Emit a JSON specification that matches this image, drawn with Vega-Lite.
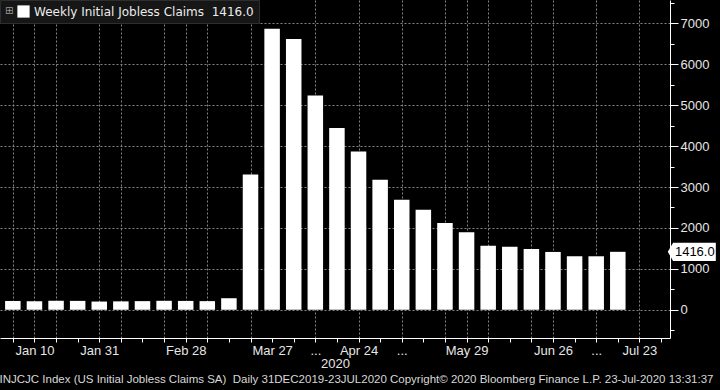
{
  "$schema": "https://vega.github.io/schema/vega-lite/v6.json",
  "width": 670,
  "height": 338,
  "autosize": {"type": "none"},
  "padding": {"left": 0, "top": 0, "right": 50, "bottom": 52},
  "background": "#000000",
  "title": {
    "text": "INJCJC Index (US Initial Jobless Claims SA)\u00a0\u00a0Daily 31DEC2019-23JUL2020 Copyright© 2020 Bloomberg Finance L.P. 23-Jul-2020 13:31:37",
    "orient": "bottom",
    "anchor": "start",
    "color": "#d8d8d8",
    "font": "Liberation Sans",
    "fontSize": 11.5,
    "fontWeight": "normal",
    "offset": 4
  },
  "config": {
    "view": {"stroke": null},
    "legend": {"orient": "none"}
  },
  "data": {
    "values": [
      {"date": "2020-01-03", "value": 214},
      {"date": "2020-01-10", "value": 207},
      {"date": "2020-01-17", "value": 220},
      {"date": "2020-01-24", "value": 217},
      {"date": "2020-01-31", "value": 201},
      {"date": "2020-02-07", "value": 205},
      {"date": "2020-02-14", "value": 211},
      {"date": "2020-02-21", "value": 219},
      {"date": "2020-02-28", "value": 216},
      {"date": "2020-03-06", "value": 211},
      {"date": "2020-03-13", "value": 282},
      {"date": "2020-03-20", "value": 3307},
      {"date": "2020-03-27", "value": 6867},
      {"date": "2020-04-03", "value": 6615},
      {"date": "2020-04-10", "value": 5237},
      {"date": "2020-04-17", "value": 4442},
      {"date": "2020-04-24", "value": 3867},
      {"date": "2020-05-01", "value": 3176},
      {"date": "2020-05-08", "value": 2687},
      {"date": "2020-05-15", "value": 2446},
      {"date": "2020-05-22", "value": 2123},
      {"date": "2020-05-29", "value": 1897},
      {"date": "2020-06-05", "value": 1566},
      {"date": "2020-06-12", "value": 1540},
      {"date": "2020-06-19", "value": 1482},
      {"date": "2020-06-26", "value": 1413},
      {"date": "2020-07-03", "value": 1310},
      {"date": "2020-07-10", "value": 1307},
      {"date": "2020-07-17", "value": 1416}
    ]
  },
  "encoding": {
    "x": {
      "field": "date",
      "type": "temporal",
      "scale": {
        "type": "utc",
        "domain": [
          {"year": 2019, "month": 12, "date": 31, "hours": 11, "utc": true},
          {"year": 2020, "month": 8, "date": 1, "hours": 7, "utc": true}
        ]
      },
      "axis": {
        "values": [
          {"year": 2020, "month": 1, "date": 3, "utc": true},
          {"year": 2020, "month": 1, "date": 10, "utc": true},
          {"year": 2020, "month": 1, "date": 17, "utc": true},
          {"year": 2020, "month": 1, "date": 24, "utc": true},
          {"year": 2020, "month": 1, "date": 31, "utc": true},
          {"year": 2020, "month": 2, "date": 7, "utc": true},
          {"year": 2020, "month": 2, "date": 14, "utc": true},
          {"year": 2020, "month": 2, "date": 21, "utc": true},
          {"year": 2020, "month": 2, "date": 28, "utc": true},
          {"year": 2020, "month": 3, "date": 6, "utc": true},
          {"year": 2020, "month": 3, "date": 13, "utc": true},
          {"year": 2020, "month": 3, "date": 20, "utc": true},
          {"year": 2020, "month": 3, "date": 27, "utc": true},
          {"year": 2020, "month": 4, "date": 3, "utc": true},
          {"year": 2020, "month": 4, "date": 10, "utc": true},
          {"year": 2020, "month": 4, "date": 17, "utc": true},
          {"year": 2020, "month": 4, "date": 24, "utc": true},
          {"year": 2020, "month": 5, "date": 1, "utc": true},
          {"year": 2020, "month": 5, "date": 8, "utc": true},
          {"year": 2020, "month": 5, "date": 15, "utc": true},
          {"year": 2020, "month": 5, "date": 22, "utc": true},
          {"year": 2020, "month": 5, "date": 29, "utc": true},
          {"year": 2020, "month": 6, "date": 5, "utc": true},
          {"year": 2020, "month": 6, "date": 12, "utc": true},
          {"year": 2020, "month": 6, "date": 19, "utc": true},
          {"year": 2020, "month": 6, "date": 26, "utc": true},
          {"year": 2020, "month": 7, "date": 3, "utc": true},
          {"year": 2020, "month": 7, "date": 10, "utc": true},
          {"year": 2020, "month": 7, "date": 17, "utc": true},
          {"year": 2020, "month": 7, "date": 24, "utc": true},
          {"year": 2020, "month": 7, "date": 31, "utc": true}
        ],
        "labelExpr": "indexof(['01-10','01-31','02-28','03-27','04-24','05-29','06-26'], utcFormat(datum.value, '%m-%d')) >= 0 ? utcFormat(datum.value, '%b %d') : (indexof(['04-10','05-08','07-10'], utcFormat(datum.value, '%m-%d')) >= 0 ? '...' : (utcFormat(datum.value, '%m-%d') == '07-24' ? 'Jul 23' : ''))",
        "labelOverlap": false,
        "labelFlush": false,
        "labelColor": "#e6e6e6",
        "labelFont": "Liberation Sans",
        "labelFontSize": 13,
        "labelPadding": 2,
        "domainColor": "#ffffff",
        "tickColor": "#ffffff",
        "tickSize": 4,
        "title": "2020",
        "titleColor": "#e6e6e6",
        "titleFont": "Liberation Sans",
        "titleFontSize": 13,
        "titleFontWeight": "normal",
        "titlePadding": 0,
        "grid": true,
        "gridColor": "#858585",
        "gridDash": [2, 2],
        "gridOpacity": {
          "condition": {
            "test": "indexof(['01-03','01-10','01-17','01-31','02-07','02-21','02-28','03-06','03-20','04-10','04-24','05-08','05-22','05-29','06-05','06-19','06-26','07-10','07-24'], utcFormat(datum.value, '%m-%d')) >= 0",
            "value": 1
          },
          "value": 0
        }
      }
    },
    "y": {
      "field": "value",
      "type": "quantitative",
      "scale": {"domain": [-690, 7570], "nice": false, "zero": false},
      "axis": {
        "orient": "right",
        "values": [-500, 0, 500, 1000, 1500, 2000, 2500, 3000, 3500, 4000, 4500, 5000, 5500, 6000, 6500, 7000, 7500],
        "labelExpr": "datum.value >= 0 && datum.value % 1000 == 0 ? '' + datum.value : ''",
        "labelColor": "#e6e6e6",
        "labelFont": "Liberation Sans",
        "labelFontSize": 13,
        "labelPadding": 2,
        "domainColor": "#ffffff",
        "tickColor": "#ffffff",
        "tickSize": {"condition": {"test": "datum.value % 1000 == 0", "value": 8}, "value": 4},
        "title": null,
        "grid": true,
        "gridColor": "#858585",
        "gridDash": [2, 2],
        "gridOpacity": {
          "condition": {"test": "datum.value >= 0 && datum.value % 1000 == 0", "value": 1},
          "value": 0
        }
      }
    }
  },
  "layer": [
    {
      "mark": {"type": "bar", "width": 15.5, "clip": false},
      "encoding": {
        "color": {
          "datum": "Weekly Initial Jobless Claims\u00a0\u00a01416.0",
          "scale": {"range": ["#ffffff"]},
          "legend": {
            "legendX": 0,
            "legendY": 0,
            "title": "⊞",
            "titleOrient": "left",
            "titleColor": "#9a9a9a",
            "titleFont": "DejaVu Sans",
            "titleFontSize": 10,
            "titleFontWeight": "normal",
            "titlePadding": 3,
            "titleLineHeight": 20,
            "padding": 5,
            "fillColor": "#161616",
            "strokeColor": "#2e2e2e",
            "symbolType": "square",
            "symbolSize": 150,
            "symbolStrokeWidth": 0,
            "labelColor": "#ececec",
            "labelFont": "DejaVu Sans",
            "labelFontSize": 12,
            "labelLimit": 400
          }
        }
      }
    },
    {
      "transform": [{"filter": "datum.value == 1416"}],
      "mark": {
        "type": "point",
        "shape": "M -1 0 L -0.78 -0.38 L 1 -0.38 L 1 0.38 L -0.78 0.38 Z",
        "size": 2304,
        "filled": true,
        "fill": "#ffffff",
        "opacity": 1,
        "xOffset": 74,
        "clip": false
      }
    },
    {
      "transform": [{"filter": "datum.value == 1416"}],
      "mark": {
        "type": "text",
        "color": "#000000",
        "font": "Liberation Sans",
        "fontSize": 13,
        "xOffset": 77,
        "baseline": "middle",
        "clip": false
      },
      "encoding": {
        "text": {"field": "value", "type": "quantitative", "format": ".1f"}
      }
    }
  ]
}
